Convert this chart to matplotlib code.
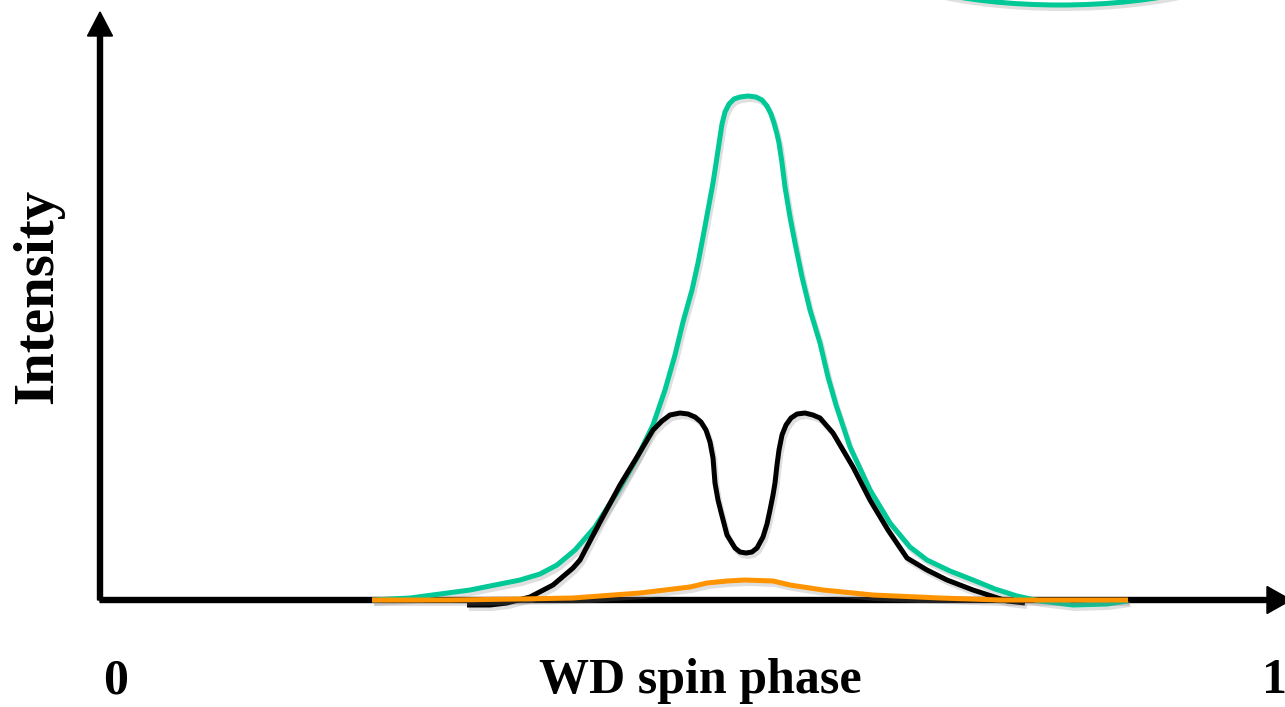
import matplotlib
matplotlib.use("Agg")
import matplotlib.pyplot as plt
import matplotlib.patheffects as pe
from matplotlib.patches import Ellipse

# --------------------------------
# Curves
# (x in pixel-phase units, y = intensity above baseline)
# --------------------------------
green_x = [372, 410, 440, 470, 500, 520, 540, 557, 575, 595, 620, 637, 653, 665,
           675, 683, 692, 698, 703, 708, 713, 717, 720, 722, 725, 729, 734, 740, 748,
           756, 762, 767, 771, 774, 777, 779, 782, 785, 790, 795, 802, 810, 820, 828,
           836, 850, 870, 890, 910, 927, 950, 973, 995, 1017, 1040, 1073, 1107, 1128]
green_y = [0, 2, 6, 10, 16, 20, 26, 35, 50, 73, 112, 142, 175, 210,
           245, 278, 310, 337, 363, 390, 417, 443, 463, 476, 488, 496, 501, 503, 504,
           503, 500, 494, 486, 477, 466, 457, 437, 413, 383, 357, 323, 290, 257, 223,
           195, 153, 110, 77, 53, 40, 29, 20, 11, 4, -1, -5, -4, -1]

black_x = [467, 490, 507, 530, 553, 573, 580, 600, 620, 637, 653, 662, 670, 680, 688,
           695, 701, 706, 710, 713, 715, 718, 721, 727, 735, 740, 746, 752, 757, 763,
           767, 770, 773, 775, 777, 779, 782, 786, 791, 797, 805, 813, 820, 833, 843,
           853, 870, 888, 907, 927, 947, 973, 1007, 1025]
black_y = [-5, -5, -3, 3, 15, 32, 40, 78, 115, 143, 170, 179, 185, 187, 186,
           183, 178, 170, 158, 142, 117, 100, 88, 65, 52, 48, 47, 48, 52, 63,
           76, 90, 105, 117, 135, 150, 165, 175, 182, 186, 187, 185, 182, 167, 150,
           133, 100, 70, 42, 30, 20, 10, -1, -3]

orange_x = [372, 450, 520, 573, 640, 690, 707, 727, 745, 773, 790, 823, 873, 940, 1000, 1128]
orange_y = [0, 0, 1, 2, 7, 13, 17, 19, 20, 19, 15, 10, 5, 2, 0, 0]

GREEN = "#00C896"
ORANGE = "#FF9300"

plt.rcParams["font.family"] = ["Liberation Serif", "DejaVu Serif"]

fig = plt.figure(figsize=(12.85, 7.07), dpi=100)
ax = fig.add_axes([0, 0, 1, 1])
ax.set_xlim(0, 1285)
ax.set_ylim(-107, 600)
ax.axis("off")

shadow = [pe.SimpleLineShadow(offset=(1.5, -2.5), shadow_color="gray", alpha=0.25),
          pe.Normal()]

# axes with arrow heads
ax.arrow(100, 0, 0, 588, width=5, head_width=25, head_length=24,
         length_includes_head=True, color="black", zorder=2)
ax.arrow(100, 0, 1191, 0, width=5, head_width=27, head_length=24,
         length_includes_head=True, color="black", zorder=2)

# WD outline at the top right
wd = Ellipse((1060, 645), width=375, height=100, fill=False,
             edgecolor=GREEN, linewidth=3.6, zorder=3, path_effects=shadow)
ax.add_patch(wd)

ax.plot(green_x, green_y, color=GREEN, linewidth=3.6, zorder=4,
        solid_capstyle="butt", solid_joinstyle="round", path_effects=shadow)
ax.plot(black_x, black_y, color="black", linewidth=3.6, zorder=5,
        solid_capstyle="butt", solid_joinstyle="round", path_effects=shadow)
ax.plot(orange_x, orange_y, color=ORANGE, linewidth=3.6, zorder=6,
        solid_capstyle="butt", solid_joinstyle="round", path_effects=shadow)

# labels
ax.text(116, -93, "0", fontsize=36, fontweight="bold", ha="center", va="baseline")
ax.text(700, -93, "WD spin phase", fontsize=36, fontweight="bold", ha="center", va="baseline")
ax.text(1274, -93, "1", fontsize=36, fontweight="bold", ha="center", va="baseline")
ax.text(52, 304, "Intensity", fontsize=41, fontweight="bold", rotation=90,
        rotation_mode="anchor", ha="center", va="baseline")

fig.savefig("out.png", dpi=100)
